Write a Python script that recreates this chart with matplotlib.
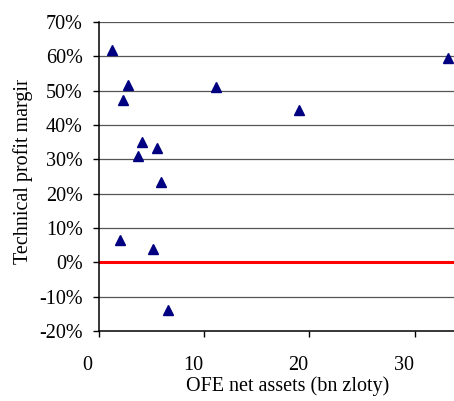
import matplotlib
matplotlib.use("Agg")
import matplotlib.pyplot as plt
from matplotlib.transforms import ScaledTranslation, Bbox

# OFE net assets (bn zloty) vs technical profit margin (%)
assets = [1.3, 2.8, 2.3, 4.1, 3.7, 5.5, 5.9, 11.1, 19.0, 33.1, 2.0, 5.2, 6.6]
margin = [61.8, 51.6, 47.4, 35.1, 30.9, 33.4, 23.4, 51.2, 44.3, 59.4, 6.6, 4.0, -14.0]

xticks = [0, 10, 20, 30]
yticks = [-20, -10, 0, 10, 20, 30, 40, 50, 60, 70]
ytick_labels = ["%d%%" % v for v in yticks]

plt.rcParams["font.family"] = ["Liberation Serif", "DejaVu Serif"]

W, H = 454, 401
fig = plt.figure(figsize=(W / 100, H / 100), dpi=100)
ax = fig.add_axes([98.5 / W, (H - 331) / H, (W - 98.5) / W, (331 - 22) / H])

ax.set_xlim(0, 33.7)
ax.set_ylim(-20, 70)

for v in yticks[1:]:
    if v != 0:
        ax.axhline(v, color="#555555", lw=0.9, zorder=1)
ax.axhline(0, color="#ff0000", lw=2.2, zorder=2)

ax.plot(assets, margin, linestyle="none", marker="^", markersize=6.8,
        color="#000080", zorder=3)

for s in ["top", "right"]:
    ax.spines[s].set_visible(False)
ax.spines["left"].set_linewidth(1.1)
ax.spines["bottom"].set_linewidth(1.1)

ax.set_yticks(yticks)
ax.set_yticklabels(ytick_labels)
ax.set_xticks(xticks)
ax.tick_params(axis="both", direction="out", length=4.3, width=1, labelsize=14.5)
ax.tick_params(axis="y", pad=7)
ax.tick_params(axis="x", pad=14)

# Excel-style shift of the x tick labels to the left of the ticks
shift = ScaledTranslation(-11 / 100, 0, fig.dpi_scale_trans)
for t in ax.xaxis.get_major_ticks():
    t.label1.set_transform(t.label1.get_transform() + shift)

fig.text(288 / W, 1 - 386 / H, "OFE net assets (bn zloty)", ha="center",
         va="center", fontsize=14.5)
yl = fig.text(23 / W, 1 - 264 / H, "Technical profit margin", rotation=90,
              ha="center", va="bottom", fontsize=14.5)
# the label is cut off at the top in the original
yl.set_clip_box(Bbox([[0, 0], [W, H - 80]]))
yl.set_clip_on(True)

fig.savefig("out.png", dpi=100)
